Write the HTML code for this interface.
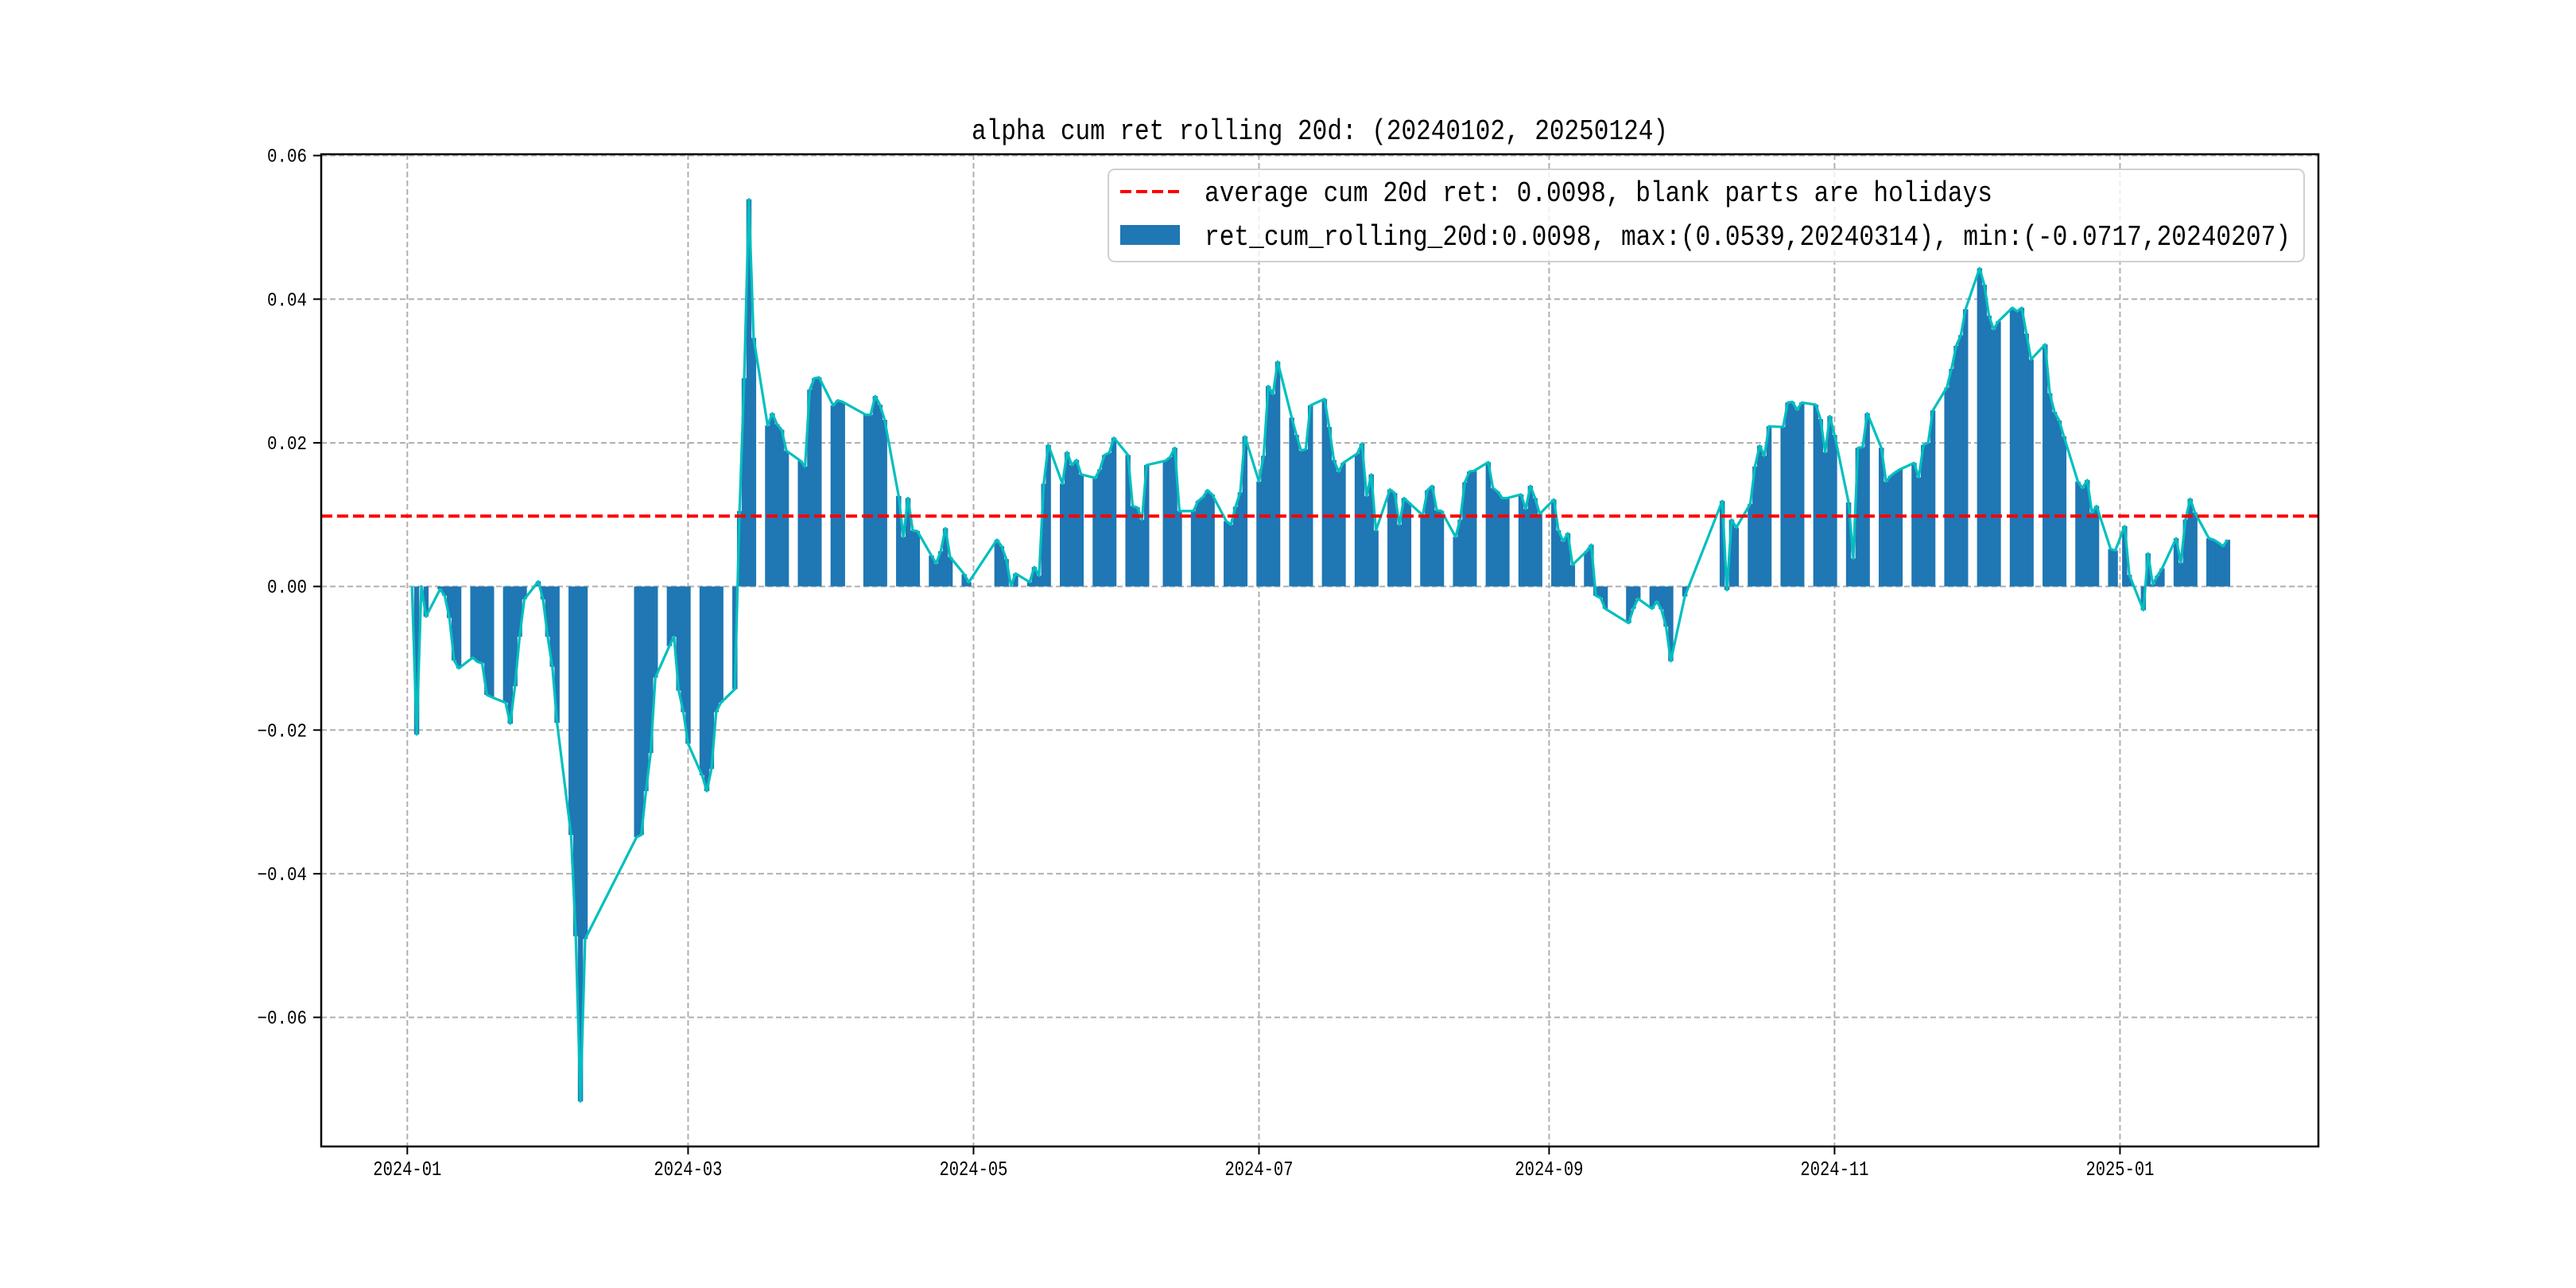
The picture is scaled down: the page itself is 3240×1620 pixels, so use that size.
<!DOCTYPE html>
<html><head><meta charset="utf-8"><style>
html,body{margin:0;padding:0;background:#fff;}
svg{display:block;}
text{font-family:"Liberation Mono","DejaVu Sans Mono",monospace;fill:#000;}
</style></head><body>
<svg id="chart" width="3240" height="1620" viewBox="0 0 3240 1620" xmlns="http://www.w3.org/2000/svg">
<rect x="0" y="0" width="3240" height="1620" fill="#fff"/>
<text x="1660" y="175" text-anchor="middle" font-size="36" textLength="876" lengthAdjust="spacingAndGlyphs">alpha cum ret rolling 20d: (20240102, 20250124)</text>
<g id="grid"></g>
<g id="bars"></g>
<g id="lines"></g>
<g id="axes"></g>
<g id="legend">
  <rect x="1394" y="213" width="1504" height="116" rx="8" fill="#fff" fill-opacity="0.8" stroke="#d0d0d0" stroke-width="2"/>
  <line x1="1409" y1="241" x2="1484" y2="241" stroke="#ff0000" stroke-width="4" stroke-dasharray="14,6"/>
  <text x="1515" y="253" font-size="36" textLength="991" lengthAdjust="spacingAndGlyphs">average cum 20d ret: 0.0098, blank parts are holidays</text>
  <rect x="1409" y="283" width="75" height="25" fill="#1f77b4"/>
  <text x="1515" y="308" font-size="36" textLength="1366" lengthAdjust="spacingAndGlyphs">ret_cum_rolling_20d:0.0098, max:(0.0539,20240314), min:(-0.0717,20240207)</text>
</g>
</svg>
<script>
const holidays = ["2024-02-09","2024-02-12","2024-02-13","2024-02-14","2024-02-15","2024-02-16","2024-04-04","2024-04-05","2024-05-01","2024-05-02","2024-05-03","2024-06-10","2024-09-16","2024-09-17","2024-10-01","2024-10-02","2024-10-03","2024-10-04","2024-10-07","2025-01-01"];
const startDate = "2024-01-02";
const endDate = "2025-01-24";
const values = [
0,-0.0206,0.0,-0.0042,
-0.0004,-0.0013,-0.0044,-0.0103,-0.0114,
-0.0099,-0.0105,-0.0107,-0.0151,-0.0154,
-0.0162,-0.0191,-0.0139,-0.0070,-0.0018,
0.0007,-0.0018,-0.0070,-0.0112,-0.0190,
-0.0346,-0.0487,-0.0717,-0.0491,
-0.0349,-0.0346,-0.0285,-0.0232,-0.0127,
-0.0083,-0.0070,-0.0145,-0.0175,-0.0219,
-0.0263,-0.0285,-0.0254,-0.0175,-0.0162,
-0.0143,0.0105,0.0290,0.0539,0.0346,
0.0224,0.0241,0.0226,0.0218,0.0189,
0.0175,0.0167,0.0274,0.0290,0.0291,
0.0252,0.0259,0.0257,
0.0239,0.0239,0.0265,0.0253,0.0232,
0.0126,0.0069,0.0123,0.0078,0.0077,
0.0043,0.0032,0.0049,0.0081,0.0041,
0.0017,0.0006,
0.0065,0.0056,0.0038,0.0001,0.0018,
0.0006,0.0027,0.0015,0.0143,0.0197,
0.0143,0.0187,0.0169,0.0176,0.0156,
0.0151,0.0163,0.0183,0.0186,0.0207,
0.0183,0.0112,0.0110,0.0093,0.0169,
0.0175,0.0180,0.0193,0.0105,
0.0105,0.0119,0.0124,0.0134,0.0128,
0.0091,0.0086,0.0111,0.0131,0.0209,
0.0146,0.0182,0.0279,0.0268,0.0313,
0.0235,0.0211,0.0189,0.0191,0.0252,
0.0261,0.0222,0.0176,0.0160,0.0172,
0.0185,0.0199,0.0126,0.0156,0.0078,
0.0135,0.0130,0.0086,0.0123,0.0117,
0.0099,0.0134,0.0140,0.0106,0.0105,
0.0069,0.0093,0.0145,0.0160,0.0161,
0.0173,0.0137,0.0132,0.0123,0.0123,
0.0128,0.0108,0.0140,0.0123,0.0101,
0.0121,0.0078,0.0063,0.0074,0.0030,
0.0049,0.0058,-0.0013,-0.0016,-0.0031,
-0.0051,-0.0031,-0.0017,
-0.0031,-0.0021,-0.0032,-0.0056,-0.0104,
-0.0014,
0.0119,-0.0005,0.0093,0.0082,
0.0115,0.0167,0.0196,0.0182,0.0223,
0.0222,0.0256,0.0257,0.0246,0.0256,
0.0253,0.0233,0.0187,0.0237,0.0211,
0.0117,0.0039,0.0193,0.0194,0.0241,
0.0193,0.0146,0.0154,0.0159,0.0163,
0.0172,0.0152,0.0197,0.0200,0.0245,
0.0277,0.0303,0.0335,0.0350,0.0386,
0.0443,0.0420,0.0377,0.0358,0.0369,
0.0388,0.0383,0.0388,0.0352,0.0316,
0.0337,0.0269,0.0243,0.0231,0.0209,
0.0146,0.0137,0.0148,0.0103,0.0112,
0.0052,0.0050,
0.0084,0.0016,
-0.0033,0.0046,0.0003,0.0015,0.0025,
0.0067,0.0033,0.0093,0.0122,0.0103,
0.0067,0.0065,0.0061,0.0056,0.0065
];
const averageValue = 0.0098;
const yTicks = [-0.06,-0.04,-0.02,0.00,0.02,0.04,0.06];
const yTickLabels = ["\u22120.06","\u22120.04","\u22120.02","0.00","0.02","0.04","0.06"];
const xTicks = ["2024-01-01","2024-03-01","2024-05-01","2024-07-01","2024-09-01","2024-11-01","2025-01-01"];
const xTickLabels = ["2024-01","2024-03","2024-05","2024-07","2024-09","2024-11","2025-01"];

const NS = "http://www.w3.org/2000/svg";
const L = 404, R = 2916, T = 194, B = 1442;
const DAY = 86400000;
function ms(s){ return Date.UTC(+s.slice(0,4), +s.slice(5,7)-1, +s.slice(8,10)); }
const dates = [];
for (let t = ms(startDate); t <= ms(endDate); t += DAY) {
  const d = new Date(t); const wd = d.getUTCDay();
  const iso = d.toISOString().slice(0,10);
  if (wd === 0 || wd === 6 || holidays.includes(iso)) continue;
  dates.push(t);
}
const n = Math.min(dates.length, values.length);
const t0 = dates[0], t1 = dates[n-1];
const span = t1 - t0, xm = span * 0.05;
function X(t){ return L + (t - (t0 - xm)) / (span + 2*xm) * (R - L); }
let vmin = Math.min(...values.slice(0,n)), vmax = Math.max(...values.slice(0,n));
const vs = vmax - vmin; const ylo = vmin - vs*0.05, yhi = vmax + vs*0.05;
function Y(v){ return B - (v - ylo) / (yhi - ylo) * (B - T); }

function mk(tag, attrs, parent){ const e = document.createElementNS(NS, tag); for (const k in attrs) e.setAttribute(k, attrs[k]); parent.appendChild(e); return e; }
const grid = document.getElementById('grid'), bars = document.getElementById('bars'), lines = document.getElementById('lines'), axes = document.getElementById('axes');

yTicks.forEach((v,i)=>{
  const y = Y(v);
  const g = mk('line',{x1:L,x2:R,y1:y,y2:y,stroke:'#b0b0b0','stroke-width':2,'stroke-dasharray':'7,4'},grid);
  
  
  const tk = mk('line',{x1:L-10,x2:L,y1:y,y2:y,stroke:'#000','stroke-width':2},axes);
  
  
  const lbl = yTickLabels[i];
  const tx = mk('text',{x:L-18,y:y+8,'text-anchor':'end','font-size':24,textLength:(lbl.length*12.5),lengthAdjust:'spacingAndGlyphs'},axes);
  tx.textContent = lbl;
  
  
});
xTicks.forEach((s,i)=>{
  const x = X(ms(s));
  const g = mk('line',{x1:x,x2:x,y1:T,y2:B,stroke:'#b0b0b0','stroke-width':2,'stroke-dasharray':'7,4'},grid);
  
  
  const tk = mk('line',{x1:x,x2:x,y1:B,y2:B+10,stroke:'#000','stroke-width':2},axes);
  
  
  const tx = mk('text',{x:x,y:B+36,'text-anchor':'middle','font-size':26,textLength:86,lengthAdjust:'spacingAndGlyphs'},axes);
  tx.textContent = xTickLabels[i];
  
  
});

const bw = (X(t0+DAY) - X(t0));
const y0 = Y(0);
for (let i=0;i<n;i++){
  const x = X(dates[i]) - bw/2 - 0.3, y = Y(values[i]);
  const r = mk('rect',{x:x,y:Math.min(y,y0),width:bw+0.6,height:Math.abs(y-y0),fill:'#1f77b4'},bars);
  
  
}
let d = '';
for (let i=0;i<n;i++){ d += (i?'L':'M') + X(dates[i]).toFixed(2) + ',' + Y(values[i]).toFixed(2); }
const pl = mk('path',{d:d,fill:'none',stroke:'#00bfbf','stroke-width':3.2,'stroke-linejoin':'round'},lines);


const ya = Y(averageValue);
const av = mk('line',{x1:L,x2:R,y1:ya,y2:ya,stroke:'#ff0000','stroke-width':4,'stroke-dasharray':'14,6'},lines);


const fr = mk('rect',{x:L,y:T,width:R-L,height:B-T,fill:'none',stroke:'#000','stroke-width':2.5},axes);


</script>
</body></html>
